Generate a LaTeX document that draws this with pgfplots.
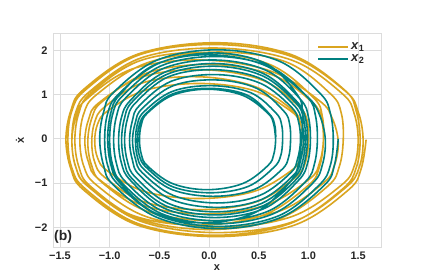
\documentclass[border=0pt]{standalone}
\usepackage{pgfplots}
\pgfplotsset{compat=1.18}
\usepackage{fontspec}
\setmainfont{Liberation Sans}
\definecolor{gold}{HTML}{DAA520}
\definecolor{tealc}{HTML}{008080}
\definecolor{gridc}{HTML}{DCDCDC}
\definecolor{txt}{HTML}{262626}
\begin{document}
\begin{tikzpicture}
\begin{axis}[
  scale only axis, width=328bp, height=214bp,
  xmin=-1.57, xmax=1.73, ymin=-2.445, ymax=2.39,
  xtick={-1.5,-1,-0.5,0,0.5,1,1.5},
  xticklabels={−1.5,−1.0,−0.5,0.0,0.5,1.0,1.5},
  ytick={-2,-1,0,1,2},
  yticklabels={−2,−1,0,1,2},
  major tick length=0pt,
  grid=major,
  major grid style={gridc, line width=0.9pt},
  axis line style={gridc, line width=0.9pt},
  tick label style={font=\fontsize{11}{13}\selectfont\bfseries, text=txt},
  xticklabel style={yshift=-1bp},
  yticklabel style={xshift=-2bp},
  every axis x label/.style={at={(rel axis cs:0.5,0)}, yshift=-21bp, anchor=center, font=\fontsize{11}{13}\selectfont\bfseries, text=txt},
  every axis y label/.style={at={(rel axis cs:0,0.5)}, xshift=-33bp, rotate=90, anchor=center, font=\fontsize{11}{13}\selectfont\bfseries, text=txt},
  xlabel={x}, ylabel={\.x},
  legend style={draw=none, fill=none, at={(rel axis cs:0.965,0.975)}, anchor=north east,
    font=\fontsize{13}{15}\selectfont, text=txt, row sep=0bp},
  legend cell align=left,
  legend image code/.code={\draw[#1] (0bp,0bp) -- (30bp,0bp);},
]
\addplot[smooth, tension=0.6, line join=round, draw=gold, line width=1.6pt] coordinates {
(1.58,-0.02) (1.53,-0.68) (1.40,-1.16) (0.86,-1.95) (0.07,-2.21) (-0.72,-1.95) (-1.26,-1.16) (-1.39,-0.68) (-1.44,-0.02) (-1.39,0.64) (-1.26,1.12) (-0.72,1.91) (0.07,2.17) (0.83,1.90) (1.36,1.11) (1.48,0.63)
(1.52,-0.02) (1.48,-0.66) (1.34,-1.14) (0.81,-1.92) (0.05,-2.18) (-0.71,-1.92) (-1.24,-1.14) (-1.38,-0.66) (-1.42,-0.02) (-1.38,0.63) (-1.24,1.11) (-0.71,1.89) (0.06,2.13) (0.83,1.86) (1.37,1.08) (1.50,0.61)
(1.55,-0.02) (1.51,-0.65) (1.37,-1.11) (0.85,-1.87) (0.09,-2.12) (-0.68,-1.87) (-1.20,-1.11) (-1.34,-0.65) (-1.38,-0.02) (-1.34,0.61) (-1.20,1.07) (-0.68,1.83) (0.09,2.05) (0.84,1.77) (1.34,1.02) (1.46,0.57)
(1.50,-0.03) (1.46,-0.62) (1.33,-1.05) (0.83,-1.76) (0.10,-2.00) (-0.63,-1.76) (-1.13,-1.05) (-1.26,-0.62) (-1.30,-0.03) (-1.26,0.57) (-1.13,1.00) (-0.63,1.71) (0.08,1.96) (0.77,1.74) (1.22,1.02) (1.33,0.58)
(1.35,-0.03) (1.31,-0.63) (1.19,-1.08) (0.70,-1.81) (0.00,-2.05) (-0.70,-1.81) (-1.19,-1.08) (-1.31,-0.63) (-1.35,-0.03) (-1.31,0.58) (-1.19,1.03) (-0.70,1.76) (-0.03,1.95) (0.62,1.67) (1.05,0.93) (1.14,0.50)
(1.15,-0.08) (1.11,-0.64) (1.00,-1.05) (0.54,-1.73) (-0.12,-1.95) (-0.77,-1.73) (-1.23,-1.05) (-1.34,-0.64) (-1.38,-0.08) (-1.34,0.49) (-1.23,0.90) (-0.77,1.58) (-0.08,1.78) (0.62,1.53) (1.11,0.86) (1.24,0.46)
(1.30,-0.08) (1.26,-0.61) (1.15,-1.00) (0.70,-1.64) (0.04,-1.85) (-0.62,-1.64) (-1.07,-1.00) (-1.18,-0.61) (-1.22,-0.08) (-1.18,0.46) (-1.07,0.85) (-0.62,1.49) (0.02,1.68) (0.64,1.44) (1.04,0.82) (1.13,0.45)
(1.15,-0.05) (1.11,-0.55) (1.01,-0.91) (0.57,-1.50) (-0.05,-1.70) (-0.67,-1.50) (-1.11,-0.91) (-1.21,-0.55) (-1.25,-0.05) (-1.21,0.45) (-1.11,0.81) (-0.67,1.40) (-0.06,1.56) (0.53,1.33) (0.90,0.74) (0.99,0.39)
(1.00,-0.08) (0.97,-0.53) (0.87,-0.87) (0.48,-1.42) (-0.09,-1.60) (-0.66,-1.42) (-1.05,-0.87) (-1.15,-0.53) (-1.18,-0.08) (-1.15,0.38) (-1.05,0.72) (-0.66,1.27) (-0.09,1.40) (0.46,1.18) (0.84,0.65) (0.92,0.35)
(0.95,-0.05) (0.92,-0.44) (0.82,-0.73) (0.45,-1.19) (-0.10,-1.35) (-0.65,-1.19) (-1.02,-0.73) (-1.12,-0.44) (-1.15,-0.05) (-1.12,0.34) (-1.02,0.63) (-0.65,1.09) (-0.10,1.25) (0.45,1.09) (0.82,0.63) (0.92,0.34)
(0.95,-0.05)
};
\addlegendentry{\textbf{\textit{x}}\textsubscript{\textbf{1}}}
\addplot[smooth, tension=0.6, line join=round, draw=tealc, line width=1.6pt] coordinates {
(1.30,0.00) (1.26,-0.61) (1.16,-1.05) (0.72,-1.78) (0.10,-2.03) (-0.52,-1.78) (-0.96,-1.05) (-1.06,-0.61) (-1.10,0.00) (-1.06,0.61) (-0.96,1.05) (-0.52,1.78) (0.10,2.01) (0.71,1.75) (1.12,1.02) (1.22,0.58)
(1.25,-0.02) (1.22,-0.60) (1.11,-1.04) (0.70,-1.74) (0.10,-1.98) (-0.50,-1.74) (-0.91,-1.04) (-1.02,-0.60) (-1.05,-0.02) (-1.02,0.57) (-0.91,1.01) (-0.50,1.71) (0.06,1.94) (0.58,1.69) (0.89,0.99) (0.94,0.57)
(0.93,0.00) (0.90,-0.57) (0.81,-0.99) (0.46,-1.67) (-0.05,-1.90) (-0.55,-1.67) (-0.90,-0.99) (-0.99,-0.57) (-1.02,0.00) (-0.99,0.57) (-0.90,0.99) (-0.55,1.67) (-0.01,1.90) (0.56,1.66) (0.98,0.97) (1.11,0.55)
(1.17,-0.02) (1.14,-0.59) (1.04,-1.01) (0.65,-1.69) (0.09,-1.92) (-0.48,-1.69) (-0.87,-1.01) (-0.97,-0.59) (-1.00,-0.02) (-0.97,0.55) (-0.87,0.97) (-0.48,1.65) (0.08,1.86) (0.62,1.62) (0.99,0.94) (1.07,0.53)
(1.09,-0.03) (1.06,-0.57) (0.97,-0.97) (0.60,-1.63) (0.07,-1.85) (-0.47,-1.63) (-0.84,-0.97) (-0.93,-0.57) (-0.96,-0.03) (-0.93,0.52) (-0.84,0.92) (-0.47,1.58) (0.06,1.78) (0.58,1.54) (0.92,0.89) (1.00,0.49)
(1.02,-0.04) (0.99,-0.56) (0.90,-0.94) (0.56,-1.57) (0.06,-1.78) (-0.45,-1.57) (-0.79,-0.94) (-0.88,-0.56) (-0.91,-0.04) (-0.88,0.49) (-0.79,0.87) (-0.45,1.50) (0.06,1.70) (0.55,1.47) (0.88,0.85) (0.97,0.47)
(0.99,-0.04) (0.96,-0.54) (0.88,-0.91) (0.54,-1.52) (0.06,-1.72) (-0.43,-1.52) (-0.77,-0.91) (-0.85,-0.54) (-0.88,-0.04) (-0.85,0.47) (-0.77,0.84) (-0.43,1.45) (0.06,1.64) (0.54,1.42) (0.87,0.82) (0.95,0.46)
(0.97,-0.03) (0.94,-0.52) (0.86,-0.87) (0.53,-1.46) (0.06,-1.65) (-0.41,-1.46) (-0.74,-0.87) (-0.82,-0.52) (-0.85,-0.03) (-0.82,0.46) (-0.74,0.81) (-0.41,1.40) (0.06,1.56) (0.53,1.35) (0.85,0.77) (0.93,0.42)
(0.95,-0.04) (0.92,-0.49) (0.85,-0.82) (0.53,-1.37) (0.08,-1.55) (-0.38,-1.37) (-0.70,-0.82) (-0.77,-0.49) (-0.80,-0.04) (-0.77,0.42) (-0.70,0.75) (-0.38,1.30) (0.08,1.45) (0.52,1.25) (0.83,0.71) (0.90,0.39)
(0.92,-0.04) (0.89,-0.46) (0.82,-0.77) (0.51,-1.28) (0.08,-1.45) (-0.36,-1.28) (-0.67,-0.77) (-0.74,-0.46) (-0.77,-0.04) (-0.74,0.38) (-0.67,0.69) (-0.36,1.20) (0.07,1.33) (0.48,1.14) (0.75,0.63) (0.81,0.34)
(0.82,-0.04) (0.80,-0.42) (0.73,-0.70) (0.45,-1.15) (0.04,-1.30) (-0.37,-1.15) (-0.65,-0.70) (-0.72,-0.42) (-0.74,-0.04) (-0.72,0.34) (-0.65,0.62) (-0.37,1.07) (0.03,1.20) (0.42,1.04) (0.67,0.59) (0.73,0.32)
(0.74,-0.04) (0.72,-0.39) (0.65,-0.65) (0.39,-1.08) (0.01,-1.22) (-0.37,-1.08) (-0.63,-0.65) (-0.70,-0.39) (-0.72,-0.04) (-0.70,0.32) (-0.63,0.58) (-0.37,1.01) (0.00,1.14) (0.37,1.00) (0.60,0.58) (0.66,0.32)
(0.67,-0.02) (0.65,-0.36) (0.59,-0.61) (0.34,-1.01) (-0.02,-1.15) (-0.37,-1.01) (-0.62,-0.61) (-0.68,-0.36) (-0.70,-0.02) (-0.68,0.33) (-0.62,0.58) (-0.37,0.98) (-0.02,1.12) (0.34,0.98) (0.59,0.58) (0.65,0.33)
(0.67,-0.02)
};
\addlegendentry{\textbf{\textit{x}}\textsubscript{\textbf{2}}}
\node[anchor=south west, inner sep=0pt, font=\fontsize{14}{16}\selectfont\bfseries, text=txt] at ([xshift=1bp,yshift=3bp]rel axis cs:0,0) {(b)};
\end{axis}
\path ([xshift=-53bp,yshift=-30bp]current axis.south west) rectangle ([xshift=42bp,yshift=33bp]current axis.north east);
\end{tikzpicture}
\end{document}
